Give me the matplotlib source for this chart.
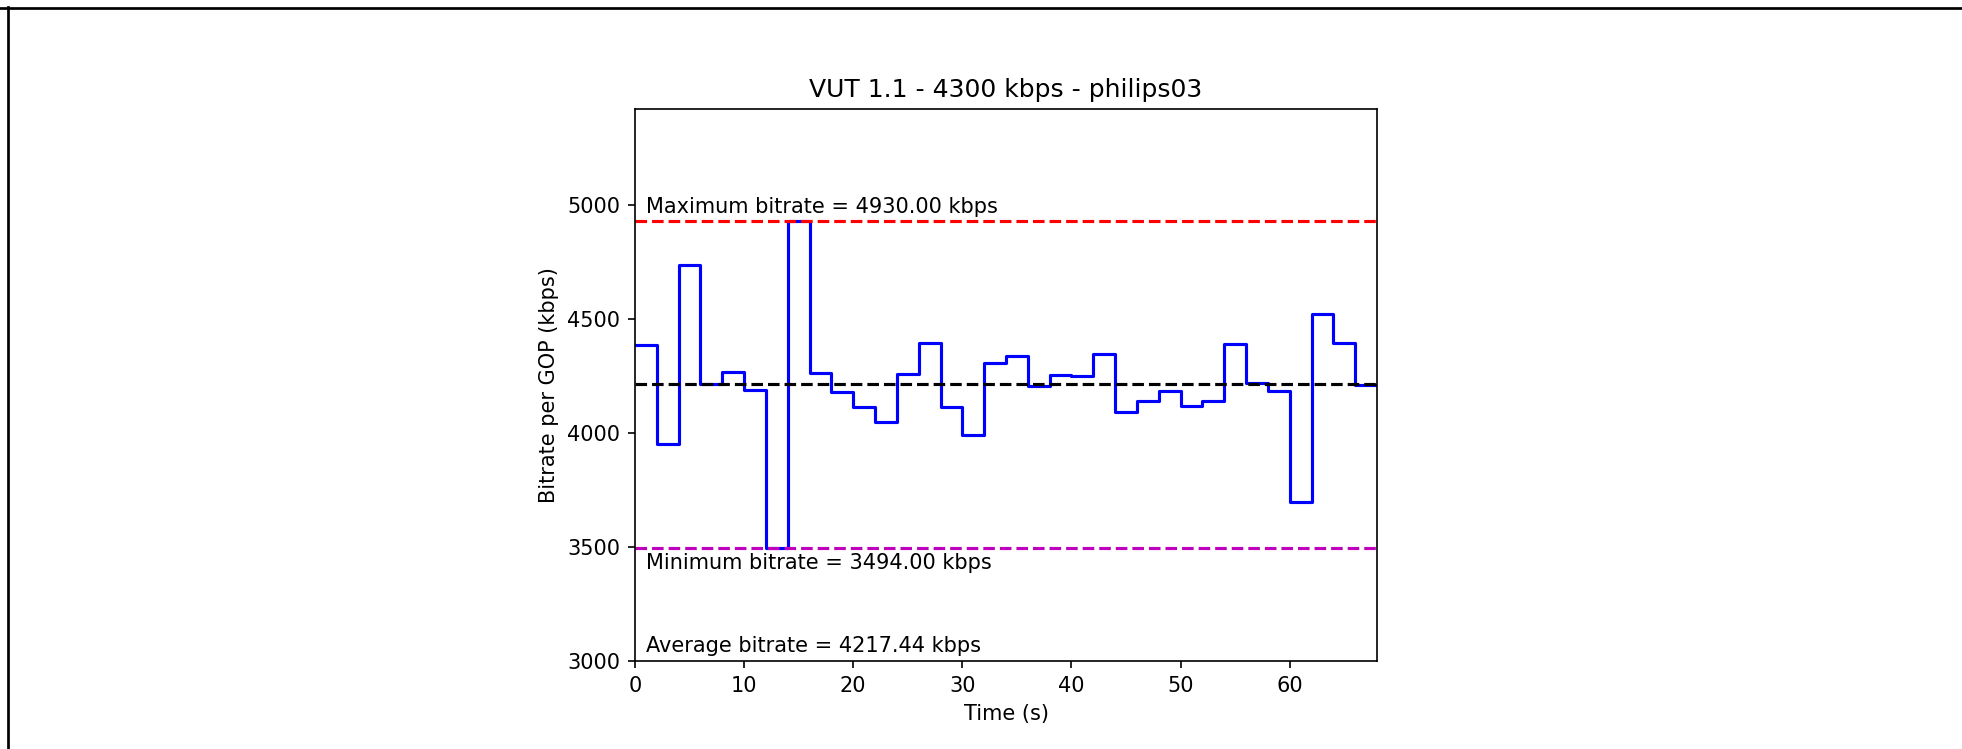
import numpy as np
import matplotlib.pyplot as plt
from matplotlib.lines import Line2D

# bitrate of each 2 s GOP (kbps)
gop_len = 2
rates = [4385, 3953, 4738, 4216, 4268, 4188, 3494, 4930, 4265, 4179,
         4115, 4049, 4259, 4397, 4115, 3990, 4306, 4338, 4209, 4257,
         4251, 4349, 4093, 4140, 4187, 4118, 4140, 4390, 4221, 4187,
         3696, 4525, 4395, 4210]
max_rate = 4930.00
min_rate = 3494.00
avg_rate = 4217.44
title = 'VUT 1.1 - 4300 kbps - philips03'

W, H, dpi = 1962, 749, 150
fig = plt.figure(figsize=(W/dpi, H/dpi), dpi=dpi)
ax = fig.add_axes([635/W, (H-661)/H, 742/W, 552/H])

t = np.arange(len(rates)+1)*gop_len
plt.step(t, rates + [rates[-1]], where='post', color='b')

plt.axhline(max_rate, color='r', linestyle='--')
plt.axhline(min_rate, color='m', linestyle='--')
plt.axhline(avg_rate, color='k', linestyle='--')

plt.text(1, max_rate+20, 'Maximum bitrate = %.2f kbps' % max_rate, va='bottom')
plt.text(1, min_rate-20, 'Minimum bitrate = %.2f kbps' % min_rate, va='top')
plt.text(1, 3020, 'Average bitrate = %.2f kbps' % avg_rate, va='bottom')

plt.xlim(0, len(rates)*gop_len)
plt.ylim(3000, max_rate*1.1)
plt.title(title)
plt.xlabel('Time (s)')
plt.ylabel('Bitrate per GOP (kbps)')

# frame lines along the top and left edge
fig.add_artist(Line2D([0, 1], [1-7.5/H, 1-7.5/H], color='k', lw=1.3, transform=fig.transFigure))
fig.add_artist(Line2D([8/W, 8/W], [0, 1-6.5/H], color='k', lw=1.3, transform=fig.transFigure))

plt.savefig('out.png', dpi=dpi)
